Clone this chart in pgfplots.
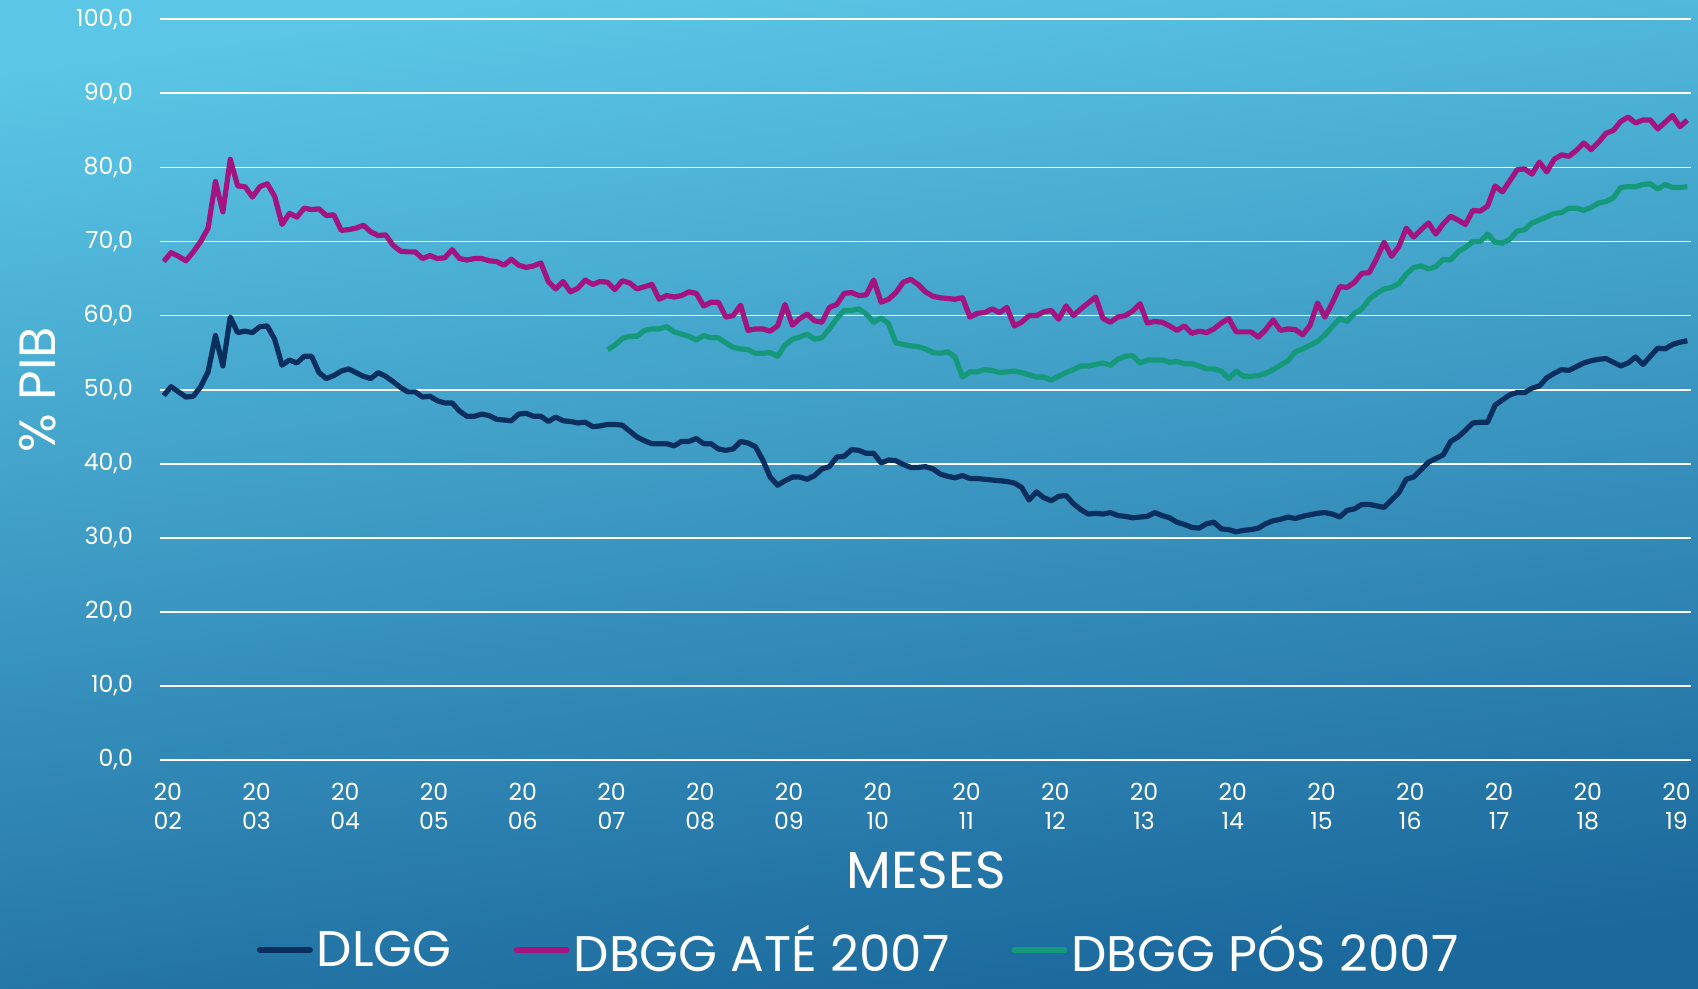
\documentclass[border=0pt]{standalone}
\usepackage{pgfplots}
\pgfplotsset{compat=1.18}
\usepackage{fontspec}
\setmainfont{Poppins}
\definecolor{bgtop}{RGB}{91,198,230}
\definecolor{bgbot}{RGB}{27,104,156}
\definecolor{dlgg}{RGB}{9,47,95}
\definecolor{dbggate}{RGB}{163,20,128}
\definecolor{dbggpos}{RGB}{22,152,122}
\begin{document}
\begin{tikzpicture}
\useasboundingbox (0,0) rectangle (849pt,494.5pt);
\shade[top color=bgtop, bottom color=bgbot, shading angle=8] (0,0) rectangle (849pt,494.5pt);
\begin{axis}[
 at={(80pt,114.5pt)}, anchor=south west,
 scale only axis, width=765.5pt, height=370.35pt,
 xmin=-0.5, xmax=206.5, ymin=0, ymax=100,
 axis line style={draw=none},
 major tick length=0pt,
 ytick={0,10,...,100},
 ymajorgrids, grid style={white, line width=0.9pt},
 xtick={0,12,...,204},
 xticklabels={{20\\02},{20\\03},{20\\04},{20\\05},{20\\06},{20\\07},{20\\08},{20\\09},{20\\10},{20\\11},{20\\12},{20\\13},{20\\14},{20\\15},{20\\16},{20\\17},{20\\18},{20\\19}},
 xticklabel style={align=center, text=white, font=\fontsize{11.8}{14.5}\selectfont, yshift=-8pt, xshift=2pt},
 yticklabel style={text=white, font=\fontsize{11.8}{14}\selectfont, xshift=-10pt,
   /pgf/number format/.cd, fixed, fixed zerofill, precision=1, use comma, assume math mode=true},
 legend style={at={(0.457,-0.2565)}, anchor=center, legend columns=3, draw=none, fill=none,
   text=white, font=\fontsize{25}{29}\selectfont,
   /tikz/every even column/.append style={column sep=29pt}},
 legend image code/.code={\draw[#1, line width=3pt, line cap=round] (0pt,0pt) -- (25pt,0pt);},
 every axis plot/.append style={line width=2.6pt, line join=round},
]
\addplot[dlgg] coordinates {
(0,49.2)(1,50.4)(2,49.7)(3,49.0)(4,49.1)(5,50.4)(6,52.4)(7,57.3)(8,53.2)(9,59.8)
(10,57.7)(11,57.9)(12,57.7)(13,58.5)(14,58.6)(15,56.8)(16,53.3)(17,54.0)(18,53.6)(19,54.5)
(20,54.5)(21,52.3)(22,51.5)(23,51.9)(24,52.5)(25,52.8)(26,52.3)(27,51.8)(28,51.5)(29,52.3)
(30,51.8)(31,51.1)(32,50.3)(33,49.7)(34,49.7)(35,49.0)(36,49.1)(37,48.5)(38,48.2)(39,48.2)
(40,47.1)(41,46.4)(42,46.4)(43,46.7)(44,46.5)(45,46.0)(46,45.9)(47,45.8)(48,46.7)(49,46.8)
(50,46.4)(51,46.4)(52,45.7)(53,46.3)(54,45.8)(55,45.7)(56,45.5)(57,45.6)(58,45.0)(59,45.1)
(60,45.3)(61,45.3)(62,45.2)(63,44.4)(64,43.6)(65,43.1)(66,42.7)(67,42.7)(68,42.7)(69,42.4)
(70,43.0)(71,43.0)(72,43.4)(73,42.7)(74,42.7)(75,42.0)(76,41.8)(77,42.0)(78,43.0)(79,42.8)
(80,42.3)(81,40.5)(82,38.2)(83,37.1)(84,37.7)(85,38.2)(86,38.2)(87,37.9)(88,38.4)(89,39.3)
(90,39.6)(91,40.9)(92,41.0)(93,41.9)(94,41.8)(95,41.4)(96,41.4)(97,40.1)(98,40.5)(99,40.4)
(100,39.9)(101,39.5)(102,39.5)(103,39.6)(104,39.3)(105,38.6)(106,38.3)(107,38.1)(108,38.4)(109,38.0)
(110,38.0)(111,37.9)(112,37.8)(113,37.7)(114,37.6)(115,37.4)(116,36.8)(117,35.1)(118,36.2)(119,35.4)
(120,35.0)(121,35.6)(122,35.7)(123,34.6)(124,33.8)(125,33.2)(126,33.3)(127,33.2)(128,33.4)(129,33.0)
(130,32.9)(131,32.7)(132,32.8)(133,32.9)(134,33.4)(135,33.0)(136,32.7)(137,32.1)(138,31.8)(139,31.4)
(140,31.3)(141,31.9)(142,32.1)(143,31.2)(144,31.1)(145,30.8)(146,31.0)(147,31.1)(148,31.3)(149,31.9)
(150,32.3)(151,32.5)(152,32.8)(153,32.6)(154,32.9)(155,33.1)(156,33.3)(157,33.4)(158,33.2)(159,32.8)
(160,33.7)(161,33.9)(162,34.5)(163,34.5)(164,34.3)(165,34.1)(166,35.1)(167,36.1)(168,37.9)(169,38.2)
(170,39.2)(171,40.2)(172,40.7)(173,41.2)(174,43.0)(175,43.6)(176,44.5)(177,45.5)(178,45.6)(179,45.6)
(180,47.9)(181,48.6)(182,49.3)(183,49.6)(184,49.6)(185,50.2)(186,50.5)(187,51.6)(188,52.2)(189,52.7)
(190,52.6)(191,53.1)(192,53.6)(193,53.9)(194,54.1)(195,54.2)(196,53.7)(197,53.2)(198,53.6)(199,54.4)
(200,53.4)(201,54.5)(202,55.6)(203,55.5)(204,56.1)(205,56.4)(206,56.6)
};
\addlegendentry{DLGG}
\addplot[dbggate] coordinates {
(0,67.3)(1,68.5)(2,68.0)(3,67.4)(4,68.6)(5,70.0)(6,71.8)(7,78.1)(8,74.0)(9,81.1)
(10,77.5)(11,77.4)(12,76.0)(13,77.4)(14,77.8)(15,76.1)(16,72.3)(17,73.8)(18,73.3)(19,74.5)
(20,74.3)(21,74.4)(22,73.5)(23,73.6)(24,71.5)(25,71.6)(26,71.8)(27,72.2)(28,71.3)(29,70.8)
(30,70.9)(31,69.5)(32,68.7)(33,68.6)(34,68.6)(35,67.7)(36,68.1)(37,67.7)(38,67.8)(39,68.9)
(40,67.7)(41,67.5)(42,67.7)(43,67.7)(44,67.4)(45,67.3)(46,66.8)(47,67.6)(48,66.8)(49,66.5)
(50,66.7)(51,67.1)(52,64.6)(53,63.6)(54,64.6)(55,63.2)(56,63.7)(57,64.8)(58,64.2)(59,64.6)
(60,64.5)(61,63.5)(62,64.7)(63,64.4)(64,63.6)(65,63.9)(66,64.2)(67,62.2)(68,62.7)(69,62.5)
(70,62.7)(71,63.2)(72,63.0)(73,61.3)(74,61.8)(75,61.8)(76,59.8)(77,60.0)(78,61.4)(79,58.0)
(80,58.2)(81,58.2)(82,57.9)(83,58.6)(84,61.5)(85,58.7)(86,59.6)(87,60.2)(88,59.3)(89,59.1)
(90,61.1)(91,61.5)(92,63.0)(93,63.1)(94,62.7)(95,62.8)(96,64.8)(97,61.8)(98,62.2)(99,63.1)
(100,64.5)(101,64.9)(102,64.2)(103,63.2)(104,62.6)(105,62.4)(106,62.3)(107,62.2)(108,62.4)(109,59.8)
(110,60.3)(111,60.4)(112,60.9)(113,60.4)(114,61.1)(115,58.6)(116,59.1)(117,60.0)(118,60.0)(119,60.5)
(120,60.7)(121,59.5)(122,61.3)(123,60.0)(124,60.9)(125,61.7)(126,62.5)(127,59.6)(128,59.1)(129,59.8)
(130,60.0)(131,60.6)(132,61.6)(133,59.0)(134,59.2)(135,59.1)(136,58.6)(137,58.0)(138,58.6)(139,57.6)
(140,57.9)(141,57.7)(142,58.2)(143,59.0)(144,59.6)(145,57.8)(146,57.8)(147,57.8)(148,57.1)(149,58.1)
(150,59.4)(151,58.0)(152,58.2)(153,58.1)(154,57.4)(155,58.7)(156,61.7)(157,59.8)(158,61.7)(159,63.9)
(160,63.8)(161,64.5)(162,65.7)(163,65.8)(164,67.7)(165,69.9)(166,68.0)(167,69.3)(168,71.8)(169,70.6)
(170,71.6)(171,72.5)(172,71.0)(173,72.4)(174,73.4)(175,72.9)(176,72.3)(177,74.2)(178,74.1)(179,74.8)
(180,77.5)(181,76.7)(182,78.2)(183,79.7)(184,79.8)(185,79.1)(186,80.7)(187,79.4)(188,81.1)(189,81.7)
(190,81.5)(191,82.3)(192,83.3)(193,82.4)(194,83.4)(195,84.6)(196,85.0)(197,86.2)(198,86.8)(199,86.0)
(200,86.4)(201,86.4)(202,85.2)(203,86.1)(204,87.0)(205,85.5)(206,86.4)
};
\addlegendentry{DBGG ATÉ 2007}
\addplot[dbggpos] coordinates {
(60,55.4)(61,56.0)(62,56.9)(63,57.2)(64,57.2)(65,58.0)(66,58.2)(67,58.2)(68,58.5)(69,57.8)
(70,57.5)(71,57.2)(72,56.7)(73,57.3)(74,57.0)(75,57.0)(76,56.3)(77,55.7)(78,55.5)(79,55.4)
(80,54.9)(81,54.9)(82,55.0)(83,54.5)(84,56.0)(85,56.8)(86,57.1)(87,57.5)(88,56.8)(89,57.0)
(90,58.2)(91,59.6)(92,60.7)(93,60.7)(94,60.9)(95,60.2)(96,59.1)(97,59.7)(98,58.9)(99,56.3)
(100,56.1)(101,55.9)(102,55.8)(103,55.5)(104,55.0)(105,54.9)(106,55.1)(107,54.4)(108,51.7)(109,52.4)
(110,52.4)(111,52.7)(112,52.6)(113,52.3)(114,52.4)(115,52.5)(116,52.3)(117,52.0)(118,51.7)(119,51.7)
(120,51.3)(121,51.8)(122,52.3)(123,52.7)(124,53.2)(125,53.2)(126,53.4)(127,53.6)(128,53.3)(129,54.1)
(130,54.5)(131,54.6)(132,53.6)(133,54.0)(134,54.0)(135,54.0)(136,53.7)(137,53.8)(138,53.5)(139,53.5)
(140,53.2)(141,52.8)(142,52.8)(143,52.5)(144,51.5)(145,52.5)(146,51.8)(147,51.8)(148,51.9)(149,52.2)
(150,52.7)(151,53.3)(152,53.9)(153,55.1)(154,55.5)(155,56.0)(156,56.5)(157,57.4)(158,58.5)(159,59.6)
(160,59.2)(161,60.3)(162,60.9)(163,62.2)(164,63.0)(165,63.6)(166,63.8)(167,64.3)(168,65.6)(169,66.5)
(170,66.7)(171,66.3)(172,66.6)(173,67.6)(174,67.5)(175,68.6)(176,69.2)(177,70.0)(178,70.0)(179,71.0)
(180,69.9)(181,69.8)(182,70.3)(183,71.4)(184,71.6)(185,72.5)(186,72.9)(187,73.3)(188,73.8)(189,73.9)
(190,74.5)(191,74.5)(192,74.2)(193,74.6)(194,75.2)(195,75.4)(196,75.9)(197,77.3)(198,77.4)(199,77.4)
(200,77.7)(201,77.8)(202,77.1)(203,77.7)(204,77.3)(205,77.3)(206,77.4)
};
\addlegendentry{DBGG PÓS 2007}
\end{axis}
\node[rotate=90, text=white, font=\fontsize{25.5}{30}\selectfont] at (19pt,299.5pt) {\% PIB};
\node[text=white, font=\fontsize{26}{30}\selectfont] at (463pt,59.5pt) {MESES};
\end{tikzpicture}
\end{document}
